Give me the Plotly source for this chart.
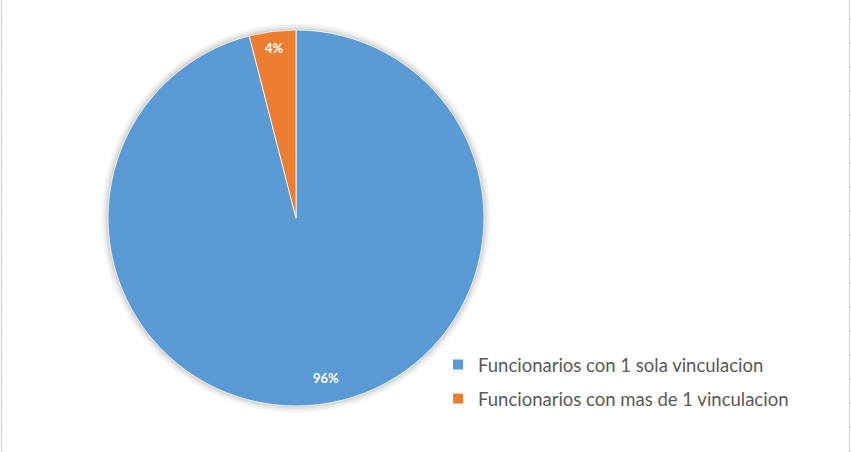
import math
import plotly.graph_objects as go

labels = ["Funcionarios con 1 sola vinculacion", "Funcionarios con mas de 1 vinculacion"]
values = [96, 4]
colors = ["#5B9BD5", "#ED7D31"]

W, H = 851, 452
CX, CY, R = 296, 218, 188

def px(x):
    return x / W

def py(y):
    return 1 - y / H

fig = go.Figure()

fig.add_trace(go.Pie(
    labels=labels, values=values, sort=False, direction="clockwise", rotation=0,
    marker=dict(colors=colors, line=dict(color="white", width=0.8)),
    textinfo="none", hoverinfo="label+percent", showlegend=False,
    domain=dict(x=[px(CX - R), px(CX + R)], y=[py(CY + R), py(CY - R)]),
))

# Legend via dummy square markers
for i, (lab, col) in enumerate(zip(labels, colors)):
    fig.add_trace(go.Scatter(
        x=[None], y=[None], mode="markers", name=lab, legendgroup=str(i),
        marker=dict(symbol="square", size=10, color=col),
    ))

# Percentage labels computed from the values
total = sum(values)
annotations = []
cum = 0
for v in values:
    mid = (cum + v / 2) / total * 2 * math.pi
    cum += v
    big = v / total > 0.5
    rf = 0.86 if big else 0.91
    x = CX + R * rf * math.sin(mid)
    y = CY - R * rf * math.cos(mid)
    if big:
        x += 10
    annotations.append(dict(
        x=px(x), y=py(y), xref="paper", yref="paper", showarrow=False,
        xanchor="center", yanchor="middle",
        text="<b>%d%%</b>" % round(100 * v / total),
        font=dict(family="Lato", size=13, color="white"),
    ))

shapes = []
# soft shadow around the pie
for k, op in [(7, 0.03), (5, 0.04), (3, 0.05), (1.5, 0.06)]:
    shapes.append(dict(type="circle", xref="paper", yref="paper",
                       x0=px(CX - R - k), x1=px(CX + R + k), y0=py(CY + R + k), y1=py(CY - R - k),
                       fillcolor="black", opacity=op, line=dict(width=0), layer="below"))
# sheet frame lines
for xx in [1.5, 849.5]:
    shapes.append(dict(type="line", xref="paper", yref="paper", x0=px(xx), x1=px(xx), y0=0, y1=1,
                       line=dict(color="#D4D4D4", width=1.2)))
for yy in range(19, 452, 24):
    shapes.append(dict(type="line", xref="paper", yref="paper", x0=px(1.5), x1=px(3.5), y0=py(yy), y1=py(yy),
                       line=dict(color="#DADADA", width=1)))
    shapes.append(dict(type="line", xref="paper", yref="paper", x0=px(849.5), x1=px(851), y0=py(yy), y1=py(yy),
                       line=dict(color="#DADADA", width=1)))

fig.update_layout(
    width=W, height=H, margin=dict(l=0, r=0, t=0, b=0),
    paper_bgcolor="white", plot_bgcolor="white",
    xaxis=dict(visible=False), yaxis=dict(visible=False),
    showlegend=True,
    legend=dict(x=px(438), y=py(346), xanchor="left", yanchor="top",
                traceorder="grouped", tracegroupgap=7,
                font=dict(family="Lato", size=18.5, color="#595959"),
                bgcolor="rgba(255,255,255,0)"),
    annotations=annotations, shapes=shapes,
)

fig.write_html("out.html", config={"displayModeBar": False},
               post_script="document.body.style.margin='0';document.body.style.overflow='hidden';")
